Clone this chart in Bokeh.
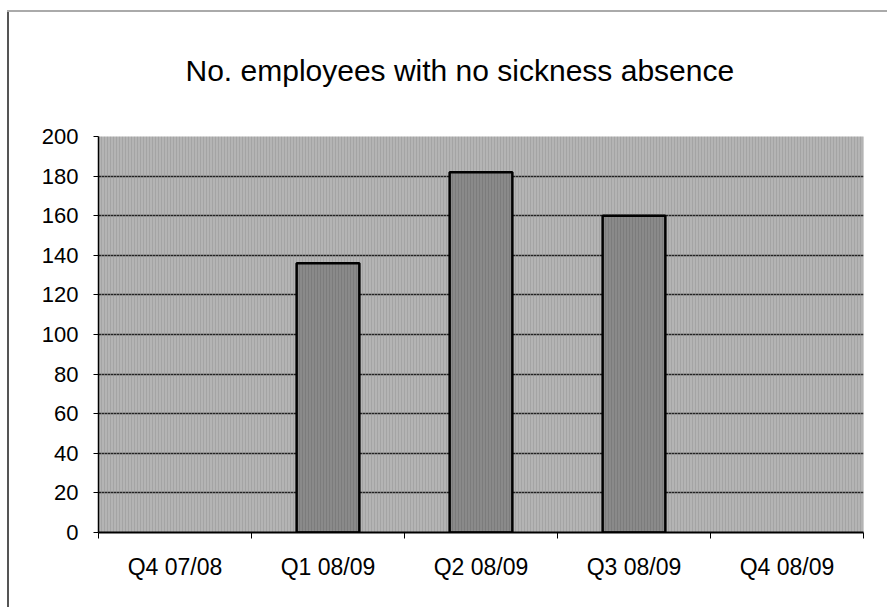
from bokeh.plotting import figure
from bokeh.models import FixedTicker, Range1d, BoxAnnotation
from bokeh.embed import file_html
from bokeh.resources import INLINE
import math

# Quarterly counts of employees with no sickness absence
categories = ["Q4 07/08", "Q1 08/09", "Q2 08/09", "Q3 08/09", "Q4 08/09"]
values = [math.nan, 136, 182, 160, math.nan]
y_ticks = [0, 20, 40, 60, 80, 100, 120, 140, 160, 180, 200]
title_text = "No. employees with no sickness absence"

FONT = "Liberation Sans"

centers = [i + 0.5 for i in range(len(categories))]
boundaries = list(range(len(categories) + 1))

p = figure(
    width=887, height=607,
    x_range=Range1d(0, len(categories)), y_range=Range1d(0, 200),
    output_backend="svg", toolbar_location=None,
    min_border_left=98, min_border_right=24, min_border_top=136, min_border_bottom=75,
)
# page frame: thin grey rule along the top, darker rule down the left side
p.styles = {
    "background": (
        "linear-gradient(#aaaaaa, #aaaaaa) 7px 10px / 100% 2px no-repeat, "
        "linear-gradient(#555555, #555555) 7px 10px / 2px 100% no-repeat, white"
    ),
}
p.background_fill_color = "#b4b4b4"
p.border_fill_color = None
p.outline_line_color = None

# grainy texture of the plotting area
p.add_layout(BoxAnnotation(fill_alpha=0, line_alpha=0,
                           hatch_pattern="vertical_line", hatch_color="#9a9a9a",
                           hatch_alpha=0.6, hatch_scale=3, hatch_weight=1, level="underlay"))

p.vbar(x=centers, top=values, width=0.41, bottom=0,
       fill_color="#8a8a8a", line_color="black", line_width=2.5,
       hatch_pattern="vertical_line", hatch_color="#6e6e6e", hatch_alpha=0.5,
       hatch_scale=3, hatch_weight=1)

# grid
p.xgrid.grid_line_color = None
p.ygrid.ticker = FixedTicker(ticks=y_ticks)
p.ygrid.grid_line_color = "#222222"
p.ygrid.grid_line_width = 1.3

# y axis
p.yaxis.ticker = FixedTicker(ticks=y_ticks)
p.yaxis.axis_line_color = "black"
p.yaxis.axis_line_width = 1.5
p.yaxis.major_tick_out = 5
p.yaxis.major_tick_in = 0
p.yaxis.minor_tick_line_color = None
p.yaxis.major_label_standoff = 15
p.yaxis.major_label_text_font = FONT
p.yaxis.major_label_text_font_size = "22px"
p.yaxis.major_label_text_color = "black"

# x axis: labels at category centres, ticks at category boundaries
p.xaxis.ticker = FixedTicker(ticks=centers, minor_ticks=boundaries)
p.xaxis.major_label_overrides = {c: lab for c, lab in zip(centers, categories)}
p.xaxis.major_tick_out = 0
p.xaxis.major_tick_in = 0
p.xaxis.minor_tick_out = 6
p.xaxis.minor_tick_in = 0
p.xaxis.minor_tick_line_color = "black"
p.xaxis.axis_line_color = "black"
p.xaxis.axis_line_width = 2
p.xaxis.major_label_standoff = 15
p.xaxis.major_label_text_font = FONT
p.xaxis.major_label_text_font_size = "23px"
p.xaxis.major_label_text_color = "black"

# chart title, left-aligned with an offset so it sits a little left of centre
p.title.text = title_text
p.title.text_font = FONT
p.title.text_font_size = "30px"
p.title.text_font_style = "normal"
p.title.text_color = "black"
p.title.align = "left"
p.title.offset = 87
p.title.standoff = 100

open("out.html", "w").write(file_html(p, INLINE))
